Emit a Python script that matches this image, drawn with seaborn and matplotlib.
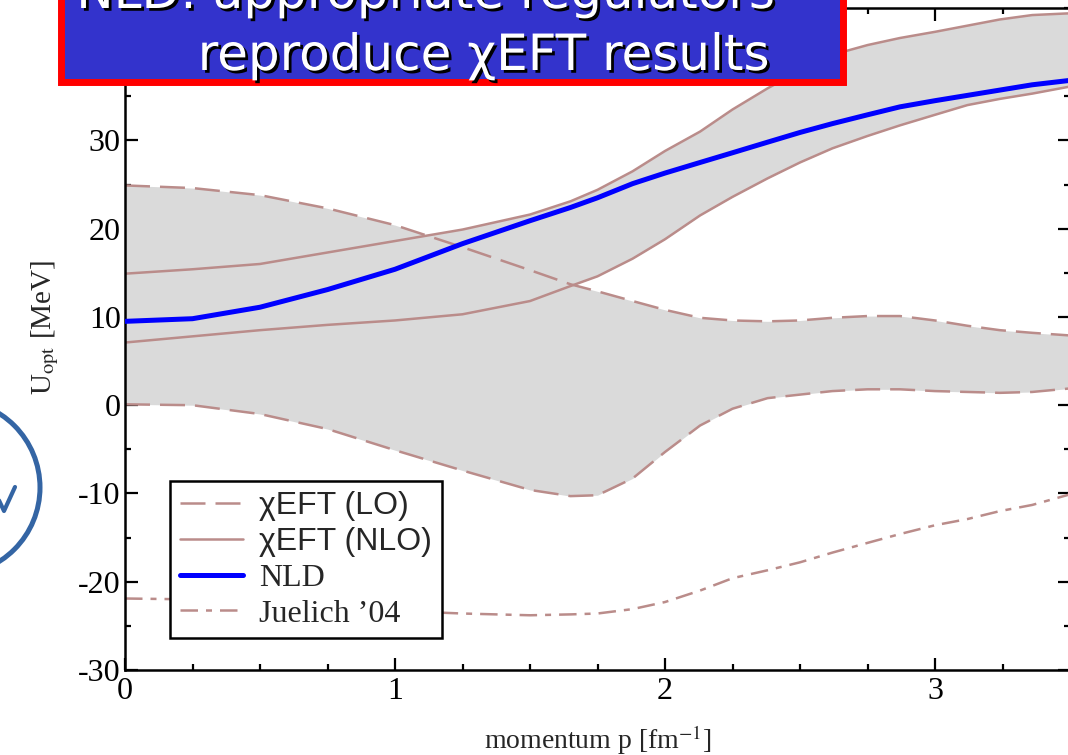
import numpy as np
import pandas as pd
import matplotlib
matplotlib.use("Agg")
import matplotlib.pyplot as plt
import seaborn as sns
from matplotlib.patches import Rectangle, Circle
from matplotlib.lines import Line2D
from matplotlib.transforms import IdentityTransform
import matplotlib.patheffects as pe
from matplotlib.ticker import MultipleLocator

# ---------------- data ----------------
momentum = [0.0, 0.25, 0.5, 0.75, 1.0, 1.25, 1.5, 1.65, 1.75, 1.88, 2.0,
            2.13, 2.25, 2.38, 2.5, 2.62, 2.75, 2.87, 3.0, 3.12, 3.24, 3.36, 3.5]
lo_upper = [24.9, 24.6, 23.8, 22.3, 20.4, 17.9, 15.3, 13.7, 12.9, 11.8, 10.8,
            9.9, 9.6, 9.5, 9.6, 9.9, 10.1, 10.1, 9.6, 9.0, 8.5, 8.2, 7.9]
lo_lower = [0.1, 0.0, -1.0, -2.7, -5.1, -7.4, -9.6, -10.3, -10.2, -8.3, -5.3,
            -2.3, -0.4, 0.8, 1.2, 1.6, 1.8, 1.8, 1.6, 1.5, 1.4, 1.5, 1.9]
nlo_upper = [14.9, 15.4, 16.0, 17.3, 18.6, 19.9, 21.6, 23.1, 24.4, 26.5, 28.8,
             31.0, 33.5, 35.9, 37.9, 39.7, 40.8, 41.6, 42.3, 43.0, 43.7, 44.2, 44.4]
nlo_lower = [7.1, 7.8, 8.5, 9.1, 9.6, 10.3, 11.8, 13.5, 14.6, 16.6, 18.8,
             21.5, 23.6, 25.7, 27.5, 29.1, 30.5, 31.7, 32.9, 34.0, 34.7, 35.3, 36.1]
nld = [9.5, 9.8, 11.1, 13.1, 15.4, 18.3, 20.9, 22.4, 23.5, 25.1, 26.3,
       27.5, 28.6, 29.8, 30.9, 31.9, 32.9, 33.8, 34.5, 35.1, 35.7, 36.3, 36.8]
juelich = [-21.9, -22.0, -22.5, -22.9, -23.3, -23.6, -23.8, -23.7, -23.6, -23.1, -22.3,
           -21.0, -19.6, -18.7, -17.8, -16.7, -15.6, -14.6, -13.6, -12.9, -12.0, -11.3, -10.1]

legend_labels = ["\u03c7EFT (LO)", "\u03c7EFT (NLO)", "NLD", "Juelich \u201904"]
x_ticks = [0, 1, 2, 3]
y_ticks = [-30, -20, -10, 0, 10, 20, 30, 40]
title_lines = ["NLD: appropriate regulators", "reproduce \u03c7EFT results"]

df = pd.DataFrame({"p": momentum, "lo_up": lo_upper, "lo_lo": lo_lower,
                   "nlo_up": nlo_upper, "nlo_lo": nlo_lower,
                   "nld": nld, "jue": juelich})

# ---------------- style ----------------
sns.set_style("ticks")
plt.rcParams['font.family'] = ['Liberation Serif', 'DejaVu Serif']
plt.rcParams['mathtext.fontset'] = 'stix'
plt.rcParams['axes.unicode_minus'] = False

W, H = 1068, 755
fig = plt.figure(figsize=(W / 100, H / 100), dpi=100)
ax = fig.add_axes([125 / W, 1 - 670 / H, 945 / W, 662 / H])

brown = "#BA8C8A"
gray = "#DADADA"
blue = "#0000FF"
lo_ls = (0, (10, 4))
jue_ls = (0, (7, 3.2, 2.4, 3.2))

ax.fill_between(df["p"], df["lo_lo"], df["lo_up"], color=gray, lw=0, zorder=1)
ax.fill_between(df["p"], df["nlo_lo"], df["nlo_up"], color=gray, lw=0, zorder=1)

sns.lineplot(data=df, x="p", y="lo_up", ax=ax, color=brown, lw=1.8, linestyle=lo_ls, zorder=2)
sns.lineplot(data=df, x="p", y="lo_lo", ax=ax, color=brown, lw=1.8, linestyle=lo_ls, zorder=2)
sns.lineplot(data=df, x="p", y="nlo_up", ax=ax, color=brown, lw=1.8, zorder=2)
sns.lineplot(data=df, x="p", y="nlo_lo", ax=ax, color=brown, lw=1.8, zorder=2)
sns.lineplot(data=df, x="p", y="jue", ax=ax, color=brown, lw=1.8, linestyle=jue_ls, zorder=2)
sns.lineplot(data=df, x="p", y="nld", ax=ax, color=blue, lw=3.6, zorder=3)

ax.set_xlim(0, 3.5)
ax.set_ylim(-30, 45)
ax.set_xticks(x_ticks)
ax.set_yticks(y_ticks)
ax.xaxis.set_minor_locator(MultipleLocator(0.25))
ax.yaxis.set_minor_locator(MultipleLocator(5))
ax.tick_params(which='both', direction='in', top=True, right=True, colors='black')
ax.tick_params(which='major', length=9, width=1.6, labelsize=23)
ax.tick_params(which='minor', length=4.6, width=1.6)
ax.tick_params(axis='x', which='major', pad=5)
ax.tick_params(axis='y', which='major', pad=3)
for s in ax.spines.values():
    s.set_linewidth(1.8)
    s.set_color('black')

ax.set_xlabel(r"momentum p [fm$^{\mathrm{-1}}$]", fontsize=20)
ax.set_ylabel(r"U$_{\mathrm{opt}}$ [MeV]", fontsize=21)
ax.xaxis.set_label_coords(0.5, -0.08)
ax.yaxis.set_label_coords(-0.068, 0.517)

handles = [Line2D([], [], color=brown, lw=1.8, linestyle=lo_ls),
           Line2D([], [], color=brown, lw=1.8),
           Line2D([], [], color=blue, lw=3.6),
           Line2D([], [], color=brown, lw=1.8, linestyle=jue_ls)]
leg = ax.legend(handles, legend_labels, loc='lower left', bbox_to_anchor=(0.0476, 0.048),
                borderaxespad=0, fontsize=23, labelspacing=0.2, handlelength=2.0,
                handletextpad=0.5, borderpad=0.3, fancybox=False, framealpha=1,
                edgecolor='black')
leg.get_frame().set_linewidth(1.8)
leg.set_zorder(5)
for t in leg.get_texts()[:2]:
    t.set_family(['Liberation Sans', 'DejaVu Sans'])

# ---------------- slide decorations ----------------
def fx(px):
    return px / W

def fy(py):
    return 1 - py / H

box = Rectangle((fx(60.5), fy(81.5)), (842.5 - 60.5) / W, (81.5 + 30) / H,
                transform=fig.transFigure, facecolor="#3333CC", edgecolor="#FF0000",
                lw=5.0, zorder=10, clip_on=False)
fig.add_artist(box)
shadow = [pe.withSimplePatchShadow(offset=(2, -2), shadow_rgbFace='black', alpha=1.0)]
fig.text(fx(426), fy(8), title_lines[0], color='white', fontsize=36,
         family=['DejaVu Sans'], ha='center', va='baseline', zorder=11,
         path_effects=shadow)
fig.text(fx(484), fy(70), title_lines[1], color='white', fontsize=36,
         family=['DejaVu Sans'], ha='center', va='baseline', zorder=11,
         path_effects=shadow)

circ = Circle((-47.5, H - 487.5), 87.5, transform=IdentityTransform(), fill=False,
              edgecolor="#3465A4", lw=3.6, clip_on=False, zorder=10)
fig.add_artist(circ)
check = Line2D([-4, 4, 15], [H - 494, H - 511, H - 487], transform=IdentityTransform(),
               color="#3465A4", lw=3.0, solid_capstyle='round', zorder=10)
fig.add_artist(check)

fig.savefig("out.png", dpi=100)
